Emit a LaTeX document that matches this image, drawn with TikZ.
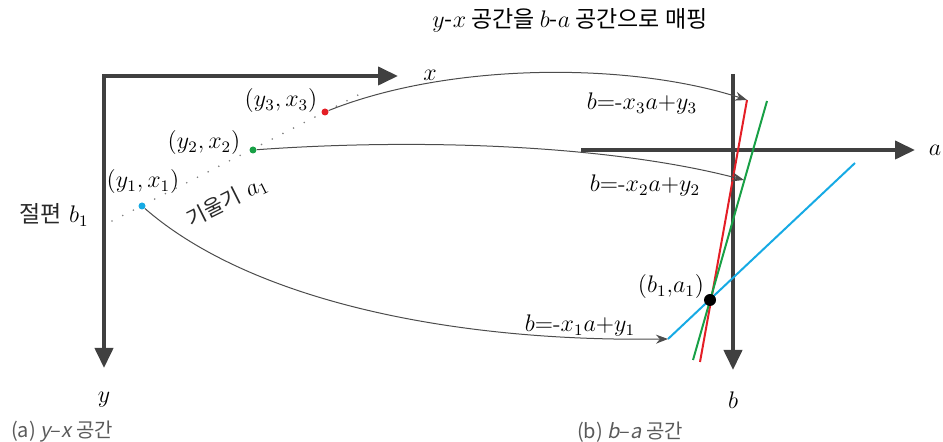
\documentclass[tikz,border=0pt]{standalone}
\usepackage{fontspec}
\newfontfamily\kr{Noto Sans CJK KR}
\newfontfamily\capfont{Noto Sans CJK KR}[AutoFakeSlant=0.2]
\usetikzlibrary{arrows.meta}
\definecolor{axisgray}{RGB}{64,64,64}
\definecolor{ptred}{RGB}{228,30,38}
\definecolor{ptgreen}{RGB}{24,160,70}
\definecolor{ptblue}{RGB}{22,170,228}
\definecolor{capgray}{RGB}{90,90,90}
\definecolor{krgray}{RGB}{40,40,40}
\begin{document}
\begin{tikzpicture}[
    x=0.5pt, y=-0.5pt,
    >={Triangle[length=10pt,width=9pt]},
    axis/.style={line width=2pt, draw=axisgray, line join=miter},
    dot/.style={circle, inner sep=0pt, minimum size=3.5pt},
    map/.style={draw=black!70, line width=0.5pt, -{Stealth[length=6pt,width=4.5pt]}},
    lbl/.style={font=\fontsize{11.5}{13}\selectfont},
    captext/.style={font=\capfont\fontsize{10}{12}\selectfont, text=capgray}
]
\useasboundingbox (0,0) rectangle (943,442);

% Title
\node[font=\kr\fontsize{11.5}{13}\selectfont] (title) at (570,20) {$y$-$x$ 공간을 $b$-$a$ 공간으로 매핑};

% y-x space
\draw[axis, <->] (398,76) -- (104,76) -- (104,368);
\node[lbl] (xlab) at (430,75) {$x$};
\node[lbl] (ylab) at (104,400) {$y$};

\coordinate (dotL) at (112,221);
\coordinate (dotR) at (362,93);
\draw[gray, line width=0.9pt, line cap=round, dash pattern=on 0pt off 6pt] (dotL) -- (dotR);

\node[dot, fill=ptblue] (pt1) at (142,206) {};
\node[dot, fill=ptgreen] (pt2) at (253,150) {};
\node[dot, fill=ptred] (pt3) at (325,112) {};

\node[lbl] (lab1) at (143,182) {$(y_1, x_1)$};
\node[lbl] (lab2) at (204,143) {$(y_2, x_2)$};
\node[lbl] (lab3) at (281,101) {$(y_3, x_3)$};
\node[lbl] (icpt) at (54,215) {{\kr\color{krgray}절편} $b_1$};

% slope label along the dotted line
\coordinate (slopeL) at (182,224);
\coordinate (slopeR) at (272,179);
\path (slopeL) -- (slopeR) node[lbl, midway, sloped, inner sep=1pt] (slope)
    {{\kr\fontsize{10.5}{12}\selectfont\color{krgray}기울기} $a_1$};

% b-a space
\draw[axis, ->] (733,74) -- (733,370);
\draw[axis, ->] (581,150) -- (915,150);
\node[lbl] (alab) at (935,150) {$a$};
\node[lbl] (blab) at (733,400) {$b$};

\coordinate (r3top) at (747,100);
\coordinate (r3bot) at (700,362);
\coordinate (g2top) at (767,101);
\coordinate (g2bot) at (693,360);
\coordinate (g2arr) at (744,180);
\coordinate (b1top) at (855,163);
\coordinate (b1bot) at (668,339);

\draw[ptred, line width=1pt] (r3top) -- (r3bot);
\draw[ptgreen, line width=1pt] (g2top) -- (g2bot);
\draw[ptblue, line width=1pt] (b1bot) -- (b1top);
\node[circle, fill=black, inner sep=0pt, minimum size=6pt] (cross) at (710,300) {};

\node[lbl] (eq3) at (642,104) {$b{=}\mbox{-}x_3a{+}y_3$};
\node[lbl] (eq2) at (645,186) {$b{=}\mbox{-}x_2a{+}y_2$};
\node[lbl] (eq1) at (580,326) {$b{=}\mbox{-}x_1a{+}y_1$};
\node[lbl] (cpt) at (671,287) {$(b_1{,}a_1)$};

% Mapping arrows
\draw[map] (pt3) .. controls (450,62) and (630,62) .. (r3top);
\draw[map] (pt2) .. controls (420,138) and (610,145) .. (g2arr);
\draw[map] (pt1) .. controls (250,300) and (450,342) .. (b1bot);

% Captions
\node[captext] (capA) at (62,432) {(a) \textit{y}–\textit{x} 공간};
\node[captext] (capB) at (630,432) {(b) \textit{b}–\textit{a} 공간};

\end{tikzpicture}
\end{document}
